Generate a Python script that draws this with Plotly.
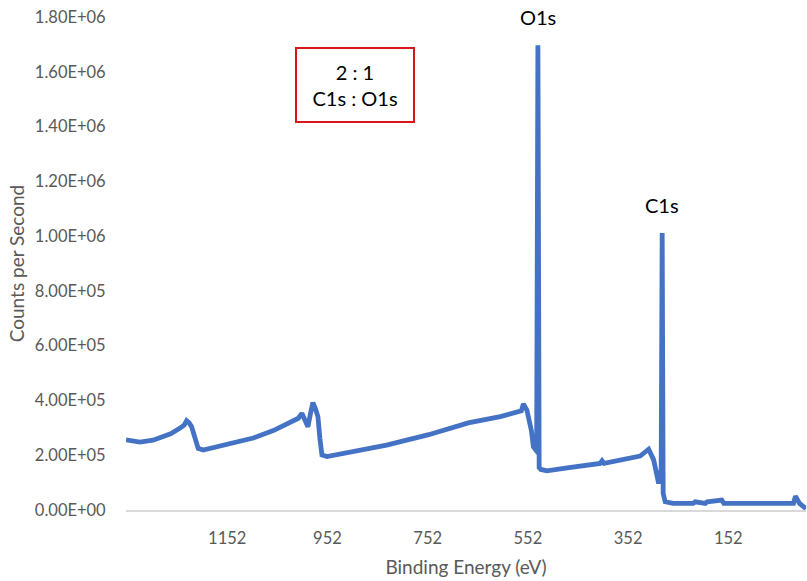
import plotly.graph_objects as go

# Binding energy (eV) and counts per second
binding_energy = [1354, 1340, 1326, 1300, 1286, 1265, 1246, 1238, 1233, 1228, 1223, 1216, 1210, 1200,
                  1150, 1100, 1060, 1021, 1010, 1003, 997, 991, 985, 981, 976, 971, 967, 963, 953,
                  900, 834, 750, 671, 607, 582, 565, 561, 554, 545, 541, 536, 534.5, 532, 529.5,
                  526, 514, 470, 408, 404, 400, 328, 311, 301, 291, 286, 284, 282, 278, 262,
                  222, 218, 198, 194, 165, 161, 100, 40, 22, 18, 10, 2, -3]
counts = [256e3, 252e3, 248e3, 255e3, 263e3, 278e3, 299e3, 310e3, 326e3, 318e3, 304e3, 260e3, 225e3, 219e3,
          240e3, 263e3, 290e3, 322e3, 335e3, 353e3, 330e3, 304e3, 360e3, 392e3, 370e3, 341e3, 260e3, 201e3, 195e3,
          212e3, 237e3, 275e3, 318e3, 341e3, 354e3, 362e3, 387e3, 365e3, 290e3, 231e3, 219e3, 225e3, 1697e3, 155e3,
          148e3, 143e3, 155e3, 170e3, 180e3, 170e3, 197e3, 222e3, 183e3, 97e3, 150e3, 1011e3, 60e3, 30e3, 24e3,
          24e3, 30e3, 24e3, 30e3, 36e3, 24e3, 24e3, 24e3, 24e3, 51e3, 24e3, 12e3, 5e3]

x_tickvals = [1152, 952, 752, 552, 352, 152]
y_tickvals = [0, 2e5, 4e5, 6e5, 8e5, 1.0e6, 1.2e6, 1.4e6, 1.6e6, 1.8e6]
y_ticktext = ["0.00E+00", "2.00E+05", "4.00E+05", "6.00E+05", "8.00E+05",
              "1.00E+06", "1.20E+06", "1.40E+06", "1.60E+06", "1.80E+06"]

peak_labels = ["O1s", "C1s"]
peak_label_x = [532, 284]
peak_label_y = [1.8e6, 1.114e6]

FONT = "Lato, 'Open Sans', sans-serif"

fig = go.Figure()
fig.add_trace(go.Scatter(
    x=binding_energy, y=counts, mode="lines",
    line=dict(color="#4472C4", width=4.8),
    showlegend=False, hoverinfo="skip"))

for t, xv, yv in zip(peak_labels, peak_label_x, peak_label_y):
    fig.add_annotation(x=xv, y=yv, xref="x", yref="y", text=t, showarrow=False,
                       font=dict(family=FONT, size=20, color="#000000"),
                       xanchor="center", yanchor="middle")

fig.add_annotation(x=0.337, y=0.863, xref="paper", yref="paper",
                   text="2 : 1<br>C1s : O1s", showarrow=False,
                   font=dict(family=FONT, size=20, color="#000000"),
                   align="center", width=116, height=72,
                   bordercolor="#D9151B", borderwidth=2, borderpad=0,
                   bgcolor="white", xanchor="center", yanchor="middle")

fig.update_layout(
    width=807, height=581,
    margin=dict(l=126, r=1, t=17, b=71),
    paper_bgcolor="white", plot_bgcolor="white",
    font=dict(family=FONT, color="#595959"),
    xaxis=dict(range=[1354, -3], tickmode="array", tickvals=x_tickvals,
               ticktext=[str(v) for v in x_tickvals],
               showgrid=False, zeroline=False,
               showline=True, linecolor="#D9D9D9", linewidth=1.5,
               ticks="outside", ticklen=12, tickcolor="rgba(0,0,0,0)",
               tickfont=dict(family=FONT, size=16.5, color="#595959"),
               title=dict(text="Binding Energy (eV)", standoff=14,
                          font=dict(family=FONT, size=19, color="#595959"))),
    yaxis=dict(range=[0, 1.8e6], tickmode="array", tickvals=y_tickvals, ticktext=y_ticktext,
               showgrid=False, zeroline=False, showline=False,
               ticks="outside", ticklen=16, tickcolor="rgba(0,0,0,0)",
               tickfont=dict(family=FONT, size=16.5, color="#595959"),
               title=dict(text="Counts per Second", standoff=5,
                          font=dict(family=FONT, size=19, color="#595959"))),
)

fig.write_html("out.html")
